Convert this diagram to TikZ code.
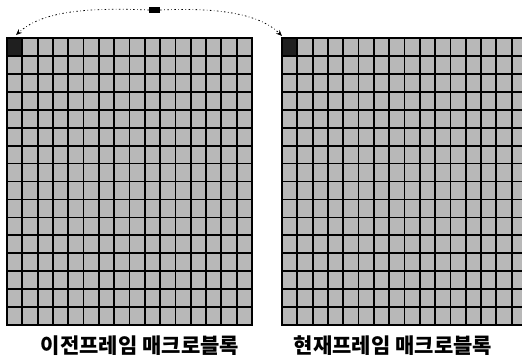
\documentclass[tikz,border=0pt]{standalone}
\usepackage{fontspec}
\usetikzlibrary{arrows.meta}
\newfontfamily\kr{Noto Sans CJK KR}
\begin{document}
\begin{tikzpicture}[x=1pt,y=-1pt,
  gridbox/.style={draw=none, fill=black!28, minimum width=245pt, minimum height=287pt, inner sep=0pt, anchor=north west},
  gridline/.style={line width=1.8pt, line cap=rect},
  darkcell/.style={fill=black!88},
  link/.style={line width=0.8pt, dash pattern=on 1.5pt off 2.5pt on 0.6pt off 2.5pt, -{Stealth[length=6pt,width=5pt]}},
  caption/.style={font=\kr\bfseries\fontsize{21}{25}\selectfont, inner sep=0pt}]
\useasboundingbox (0,0) rectangle (522,360);
\clip (0,0) rectangle (522,360);
\def\cw{15.31}
\def\ch{17.94}
% grids
\node[gridbox] (prev) at (7,38) {};
\node[gridbox] (cur) at (282,38) {};
\foreach \g in {prev,cur}{
  \fill[darkcell] (\g.north west) rectangle ++(\cw,\ch);
  \foreach \i in {0,...,16}{
    \draw[gridline] ([xshift=\i*\cw pt]\g.north west) -- ([xshift=\i*\cw pt]\g.south west);
    \draw[gridline] ([yshift=-\i*\ch pt]\g.north west) -- ([yshift=-\i*\ch pt]\g.north east);
  }
}
% moving macroblock
\node[fill=black, minimum width=11pt, minimum height=6pt, inner sep=0pt] (mb) at (154.5,10) {};
\coordinate (prevtip) at (16,35);
\coordinate (curtip) at (282,36);
\draw[link] (mb.west) .. controls (80,7) and (40,13) .. (prevtip);
\draw[link] (mb.east) .. controls (225,7) and (262,16) .. (curtip);
% captions
\node[caption] (l1) at (140,346) {이전프레임 매크로블록};
\node[caption] (l2) at (393,346) {현재프레임 매크로블록};
\end{tikzpicture}
\end{document}
